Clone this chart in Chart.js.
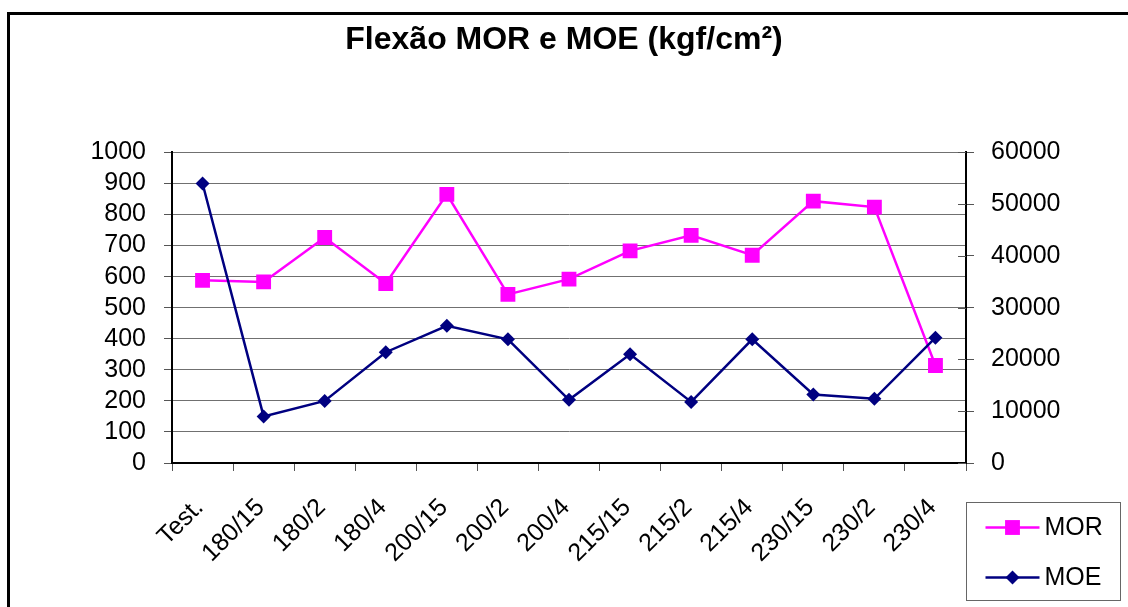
<!DOCTYPE html>
<html>
<head>
<meta charset="utf-8">
<script src="https://cdn.jsdelivr.net/npm/chart.js@4.4.1/dist/chart.umd.min.js"></script>
<style>
  body { margin: 0; background: #fff; overflow: hidden; }
  #wrap { position: relative; width: 1128px; height: 607px; }
  #frame { position: absolute; left: 7px; top: 12px; width: 1200px; height: 700px; border: 3px solid #000; pointer-events: none; }
</style>
</head>
<body>
<div id="wrap">
  <canvas id="chart" width="1128" height="607"></canvas>
  <div id="frame"></div>
</div>
<script>
const categories = ['Test.', '180/15', '180/2', '180/4', '200/15', '200/2', '200/4', '215/15', '215/2', '215/4', '230/15', '230/2', '230/4'];
const morValues = [588, 583, 726, 578, 865, 543, 592, 683, 733, 669, 843, 824, 314];
const moeValues = [54000, 9000, 12000, 21400, 26500, 23900, 12200, 21000, 11800, 23900, 13250, 12400, 24200];

const fontFamily = "'Liberation Sans', Arial, sans-serif";

// inner half of the right axis ticks (they cross the axis line)
const rightTicks = {
  id: 'rightTicks',
  beforeDatasetsDraw(chart) {
    const s = chart.scales.y1;
    const ctx = chart.ctx;
    ctx.save();
    ctx.strokeStyle = '#555';
    ctx.lineWidth = 1;
    s.ticks.forEach(t => {
      const y = Math.round(s.getPixelForValue(t.value)) + 0.5;
      ctx.beginPath();
      ctx.moveTo(s.left - 8, y);
      ctx.lineTo(s.left, y);
      ctx.stroke();
    });
    ctx.restore();
  }
};

const boxLegend = {
  id: 'boxLegend',
  afterDraw(chart) {
    const ctx = chart.ctx;
    const area = chart.chartArea;
    const x0 = area.right + 0.5, y0 = area.bottom + 39.5;
    ctx.save();
    ctx.strokeStyle = '#666';
    ctx.lineWidth = 1;
    ctx.strokeRect(x0, y0, 154, 98);
    ctx.font = '25px ' + fontFamily;
    ctx.textBaseline = 'middle';
    ctx.fillStyle = '#000';
    const items = [chart.data.datasets[0], chart.data.datasets[1]];
    items.forEach((ds, i) => {
      const y = y0 + 25 + i * 50;
      ctx.strokeStyle = ds.borderColor;
      ctx.lineWidth = ds.borderWidth;
      ctx.beginPath();
      ctx.moveTo(x0 + 19, y);
      ctx.lineTo(x0 + 73, y);
      ctx.stroke();
      ctx.fillStyle = ds.pointBackgroundColor;
      Chart.helpers.drawPoint(ctx, { pointStyle: ds.pointStyle, radius: ds.pointRadius, rotation: 0, borderWidth: 0 }, x0 + 46, y);
      ctx.fillStyle = '#000';
      ctx.fillText(ds.label, x0 + 78, y + 1);
    });
    ctx.restore();
  }
};

const tickFont = { family: fontFamily, size: 25 };

new Chart(document.getElementById('chart'), {
  type: 'line',
  data: {
    labels: categories,
    datasets: [
      {
        label: 'MOR',
        data: morValues,
        yAxisID: 'y',
        borderColor: '#ff00ff',
        backgroundColor: '#ff00ff',
        pointBackgroundColor: '#ff00ff',
        pointBorderColor: '#ff00ff',
        pointStyle: 'rect',
        pointRadius: 10.5,
        pointBorderWidth: 0,
        borderWidth: 2.5,
        tension: 0,
        order: 1
      },
      {
        label: 'MOE',
        data: moeValues,
        yAxisID: 'y1',
        borderColor: '#000080',
        backgroundColor: '#000080',
        pointBackgroundColor: '#000080',
        pointBorderColor: '#000080',
        pointStyle: 'rectRot',
        pointRadius: 7,
        pointBorderWidth: 0,
        borderWidth: 2.5,
        tension: 0,
        order: 0
      }
    ]
  },
  options: {
    responsive: false,
    animation: false,
    layout: { padding: 0 },
    plugins: {
      legend: { display: false },
      tooltip: { enabled: false },
      title: {
        display: true,
        text: 'Flexão MOR e MOE (kgf/cm²)',
        color: '#000',
        font: { family: fontFamily, size: 32, weight: 'bold' },
        padding: { top: 21, bottom: 93 }
      }
    },
    scales: {
      x: {
        offset: true,
        grid: { offset: true, drawOnChartArea: false, tickLength: 8, tickColor: '#555' },
        border: { color: '#000', width: 2 },
        ticks: {
          autoSkip: false, minRotation: 45, maxRotation: 45,
          color: '#000', font: tickFont,
          padding: 22, labelOffset: -3
        },
        afterFit(s) { s.height = 144; }
      },
      y: {
        position: 'left',
        min: 0, max: 1000,
        ticks: { stepSize: 100, autoSkip: false, color: '#000', font: tickFont, padding: 18,
          callback: v => String(v) },
        grid: { color: '#707070', tickColor: '#555', tickLength: 8 },
        border: { color: '#000', width: 2 },
        afterFit(s) { s.width = 172; }
      },
      y1: {
        position: 'right',
        min: 0, max: 60000,
        ticks: { stepSize: 10000, autoSkip: false, color: '#000', font: tickFont, padding: 17,
          callback: v => String(v) },
        grid: { drawOnChartArea: false, tickColor: '#555', tickLength: 8 },
        border: { color: '#000', width: 2 },
        afterFit(s) { s.width = 162; }
      }
    }
  },
  plugins: [rightTicks, boxLegend]
});
</script>
</body>
</html>
